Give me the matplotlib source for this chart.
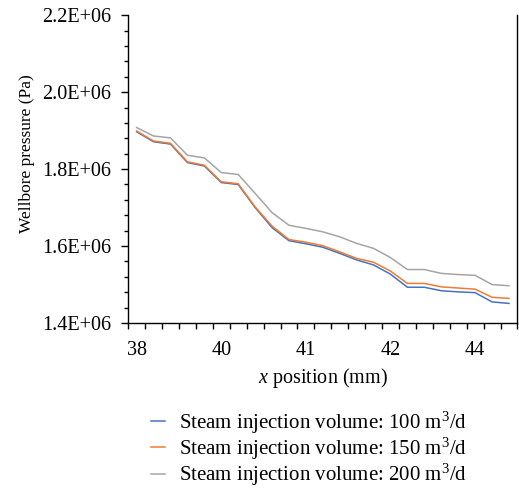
import matplotlib.pyplot as plt
from matplotlib.ticker import MultipleLocator, FuncFormatter

# wellbore pressure along x for three steam injection volumes
categories = list(range(23))
tick_labels = {0: "38", 5: "40", 10: "41", 15: "42", 20: "44"}

p_100 = [1.897e6, 1.871e6, 1.865e6, 1.817e6, 1.808e6, 1.765e6, 1.760e6, 1.700e6,
         1.648e6, 1.614e6, 1.606e6, 1.597e6, 1.581e6, 1.564e6, 1.551e6, 1.527e6,
         1.493e6, 1.493e6, 1.484e6, 1.481e6, 1.479e6, 1.455e6, 1.451e6]
p_150 = [1.899e6, 1.873e6, 1.867e6, 1.819e6, 1.810e6, 1.767e6, 1.762e6, 1.702e6,
         1.652e6, 1.617e6, 1.610e6, 1.601e6, 1.585e6, 1.568e6, 1.558e6, 1.535e6,
         1.503e6, 1.503e6, 1.494e6, 1.491e6, 1.488e6, 1.467e6, 1.464e6]
p_200 = [1.908e6, 1.886e6, 1.881e6, 1.836e6, 1.829e6, 1.791e6, 1.786e6, 1.737e6,
         1.687e6, 1.654e6, 1.646e6, 1.637e6, 1.624e6, 1.607e6, 1.594e6, 1.570e6,
         1.539e6, 1.539e6, 1.529e6, 1.526e6, 1.524e6, 1.500e6, 1.497e6]

series = [
    (p_100, "#4472C4", "Steam injection volume: 100 m$^3$/d"),
    (p_150, "#ED7D31", "Steam injection volume: 150 m$^3$/d"),
    (p_200, "#A5A5A5", "Steam injection volume: 200 m$^3$/d"),
]

plt.rcParams['font.family'] = ['Liberation Serif', 'DejaVu Serif']
plt.rcParams['mathtext.fontset'] = 'custom'
plt.rcParams['mathtext.rm'] = 'Liberation Serif'
plt.rcParams['mathtext.it'] = 'Liberation Serif:italic'

fs = 14.5

fig = plt.figure(figsize=(5.19, 4.88), dpi=100)
ax = fig.add_axes([0.247, 0.338, 0.75, 0.631])

handles = []
for vals, color, label in series:
    h, = ax.plot([c + 0.5 for c in categories], vals, color=color, lw=1.1, label=label)
    handles.append(h)

n = len(categories)
ax.set_xlim(0, n)
ax.set_ylim(1.4e6, 2.2e6)

# category boundaries get ticks, labels sit in the middle of the category
ax.set_xticks(range(n + 1))
ax.set_xticklabels([])
ax.set_xticks([k + 0.5 for k in tick_labels], minor=True)
ax.set_xticklabels(list(tick_labels.values()), minor=True)
ax.tick_params(axis='x', which='major', direction='out', length=4, width=1)
ax.tick_params(axis='x', which='minor', length=0, pad=13, labelsize=fs)

ax.yaxis.set_major_locator(MultipleLocator(0.2e6))
ax.yaxis.set_minor_locator(MultipleLocator(0.04e6))
ax.yaxis.set_major_formatter(FuncFormatter(lambda v, _: f"{v / 1e6:.1f}E+06"))
ax.tick_params(axis='y', which='major', direction='out', length=5, width=1, labelsize=fs, pad=7)
ax.tick_params(axis='y', which='minor', direction='out', length=3, width=1)

ax.spines['top'].set_visible(False)
for side in ('left', 'bottom', 'right'):
    ax.spines[side].set_linewidth(1)

ax.set_xlabel("$x$ position (mm)", fontsize=fs, labelpad=4)
ax.set_ylabel("Wellbore pressure (Pa)", fontsize=12.5)
ax.yaxis.set_label_coords(-0.24, 0.55)

fig.legend(handles=handles, loc='upper left', bbox_to_anchor=(0.274, 0.178),
           frameon=False, fontsize=15, handlelength=0.7, handletextpad=0.65,
           labelspacing=0.0, borderaxespad=0)

fig.savefig("out.png", dpi=100)
